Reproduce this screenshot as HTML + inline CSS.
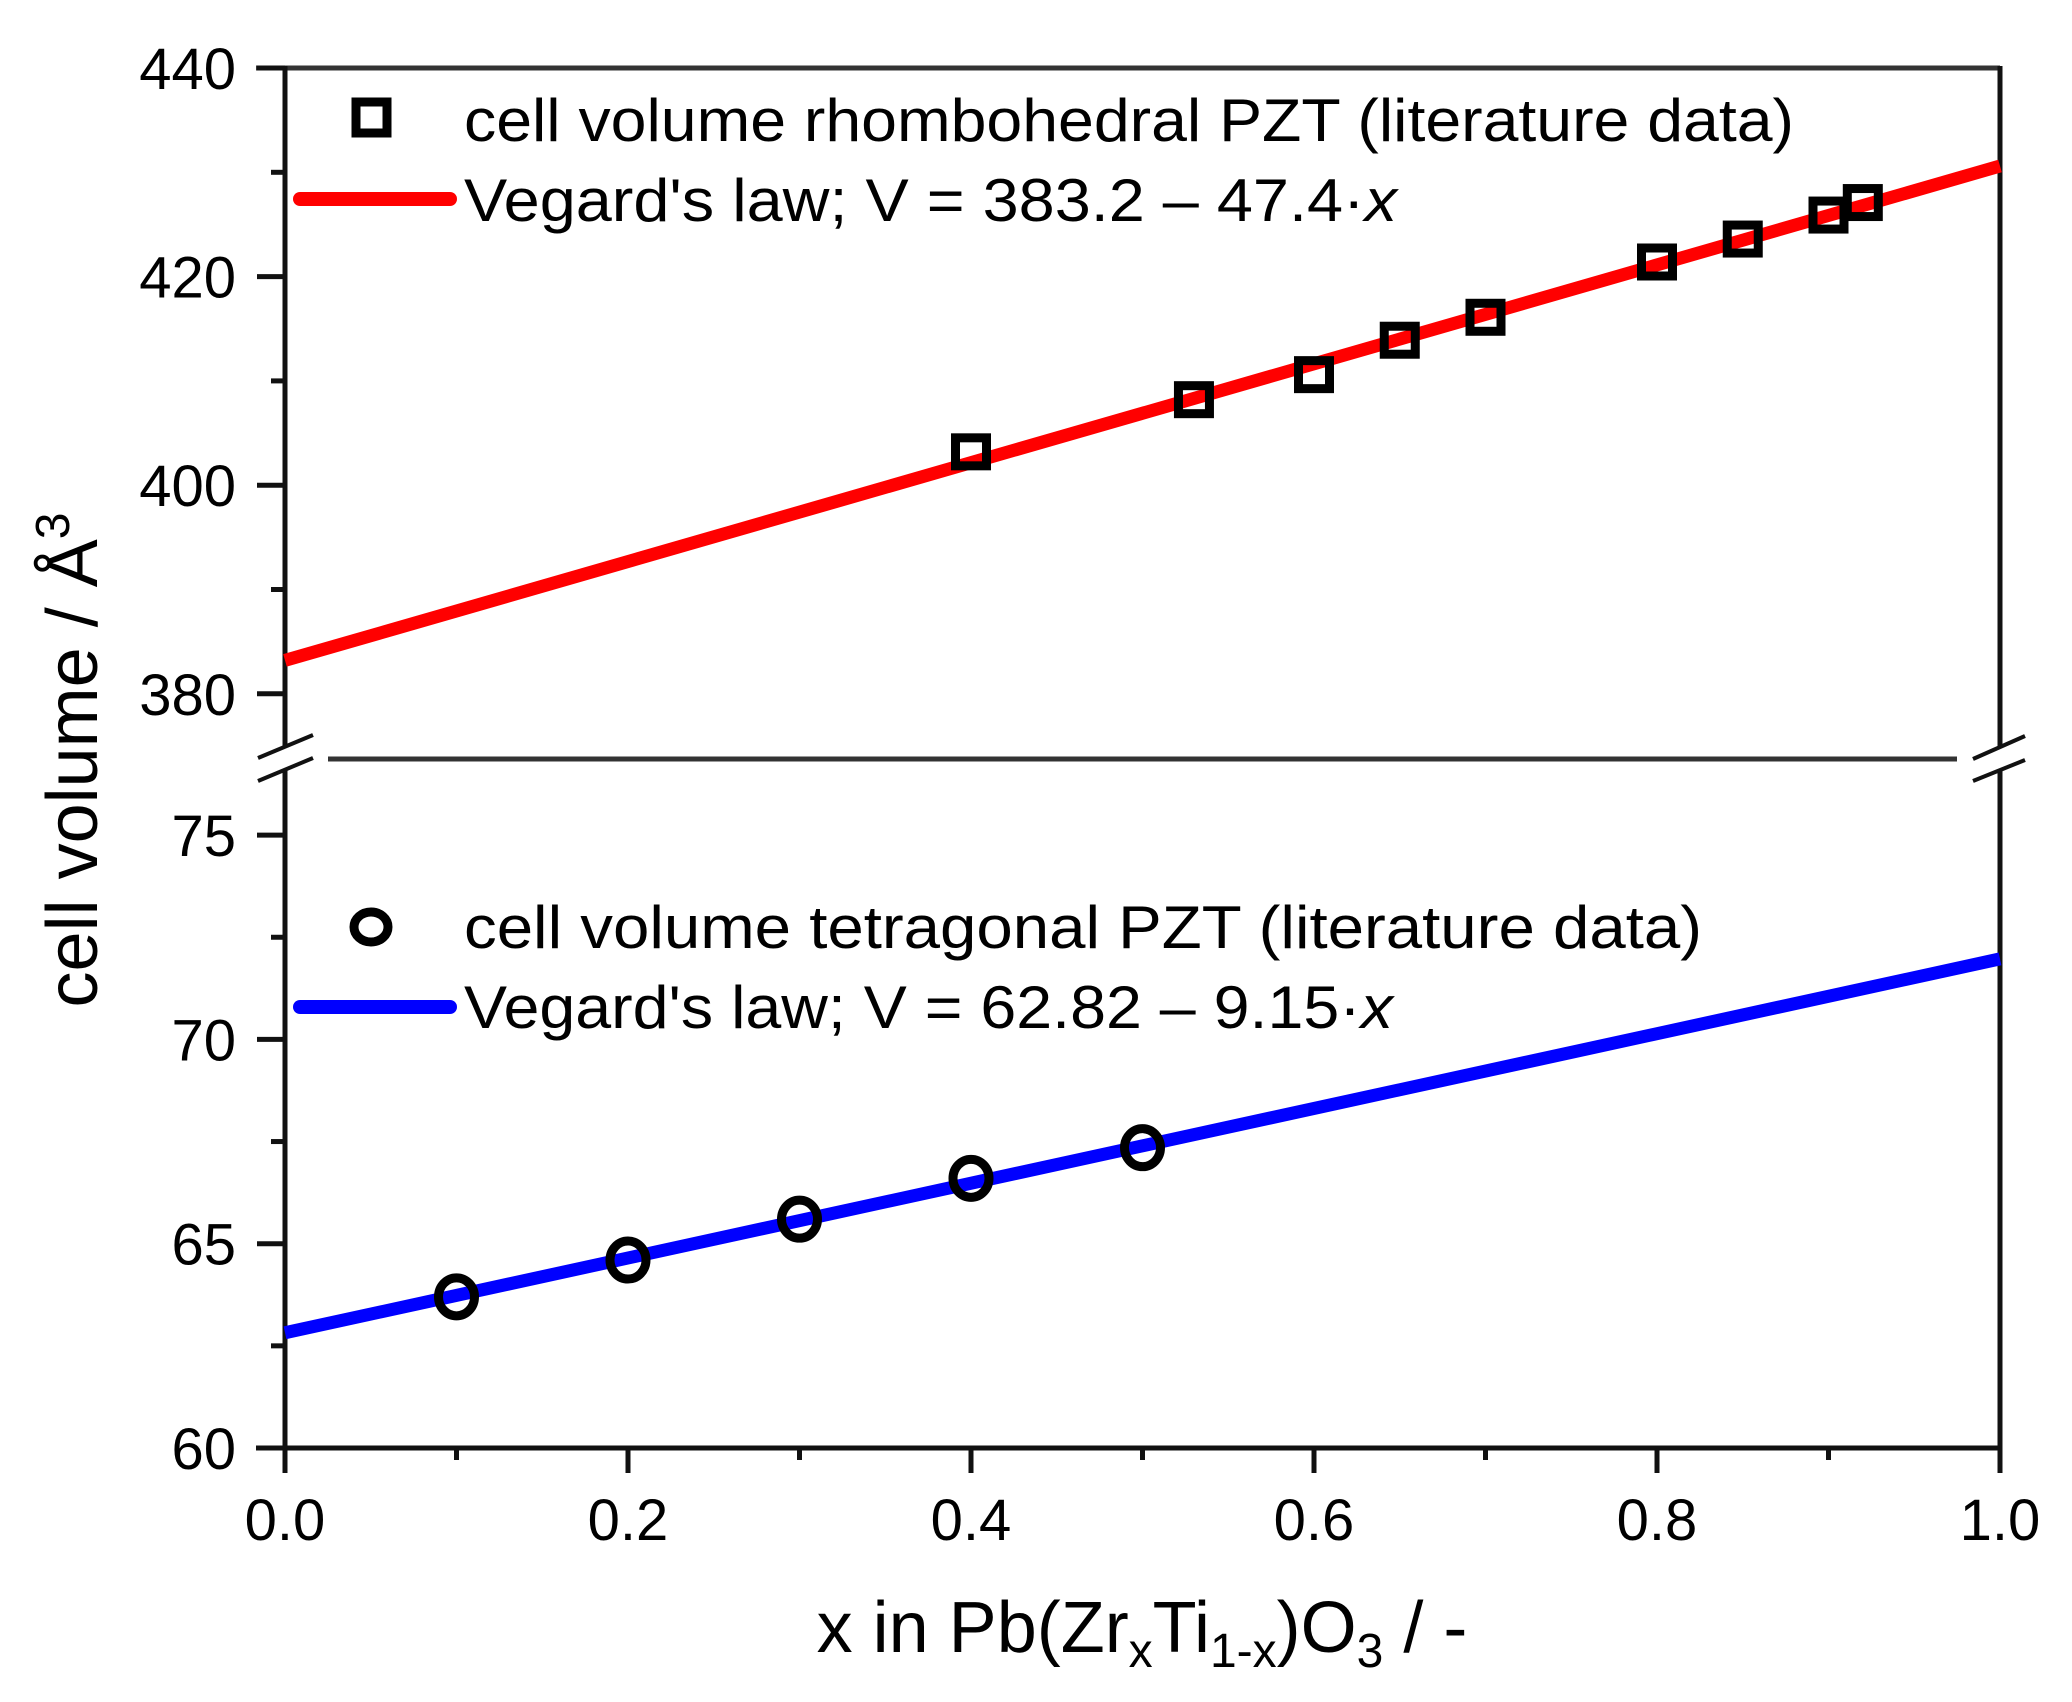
<!DOCTYPE html>
<html><head><meta charset="utf-8"><style>
html,body{margin:0;padding:0;background:#fff;}
svg{display:block;font-family:"Liberation Sans",Arial,sans-serif;}
</style></head><body>
<svg id="chart" width="2072" height="1702" viewBox="0 0 2072 1702" xmlns="http://www.w3.org/2000/svg">
<g id="frame"></g>
<g id="ticks"></g>
<g id="series"></g>
<g id="legend">
  <rect x="356" y="102" width="31" height="31" fill="none" stroke="#000" stroke-width="9"/>
  <text x="464" y="141" font-size="60" textLength="1330" lengthAdjust="spacingAndGlyphs">cell volume rhombohedral PZT (literature data)</text>
  <line x1="300" y1="199" x2="450" y2="199" stroke="#ff0000" stroke-width="14" stroke-linecap="round"/>
  <text x="464" y="221" font-size="60" textLength="933" lengthAdjust="spacingAndGlyphs">Vegard's law; V = 383.2 – 47.4·<tspan font-style="italic">x</tspan></text>
  <ellipse cx="371" cy="927" rx="17" ry="15" fill="none" stroke="#000" stroke-width="9"/>
  <text x="464" y="948" font-size="60" textLength="1238" lengthAdjust="spacingAndGlyphs">cell volume tetragonal PZT (literature data)</text>
  <line x1="300" y1="1007" x2="450" y2="1007" stroke="#0000ff" stroke-width="14" stroke-linecap="round"/>
  <text x="464" y="1028" font-size="60" textLength="929" lengthAdjust="spacingAndGlyphs">Vegard's law; V = 62.82 – 9.15·<tspan font-style="italic">x</tspan></text>
</g>
<text x="1142" y="1652" font-size="72" text-anchor="middle">x in Pb(Zr<tspan font-size="48" dy="15">x</tspan><tspan dy="-15">Ti</tspan><tspan font-size="48" dy="15">1-x</tspan><tspan dy="-15">)O</tspan><tspan font-size="48" dy="15">3</tspan><tspan dy="-15"> / -</tspan></text>
<text transform="translate(97,760) rotate(-90)" font-size="72" text-anchor="middle">cell volume / Å<tspan font-size="48" dy="-28">3</tspan></text>
</svg>
<script>
// data
const upperX = [0.4, 0.53, 0.6, 0.65, 0.7, 0.8, 0.85, 0.9, 0.92];
const upperV = [403.2, 408.2, 410.6, 413.9, 416.1, 421.4, 423.6, 425.9, 427.1];
const lowerX = [0.1, 0.2, 0.3, 0.4, 0.5];
const lowerV = [63.7, 64.6, 65.6, 66.6, 67.35];
const redFit = [383.2, 47.4];
const blueFit = [62.82, 9.15];
const xTicks = [0, 0.2, 0.4, 0.6, 0.8, 1.0];
const xTickLabels = ["0.0", "0.2", "0.4", "0.6", "0.8", "1.0"];
const upperTicks = [380, 400, 420, 440];
const lowerTicks = [60, 65, 70, 75];

const NS = "http://www.w3.org/2000/svg";
const L = 285, R = 2000, TOP = 68, BOT = 1448, BRK = 759;
const sx = v => L + v * (R - L);
const syU = v => TOP + (440 - v) * 10.43;
const syL = v => BOT - (v - 60) * 40.86;
function mk(tag, attrs, parent) {
  const e = document.createElementNS(NS, tag);
  for (const k in attrs) e.setAttribute(k, attrs[k]);
  parent.appendChild(e);
  return e;
}
const frame = document.getElementById('frame');
const ticks = document.getElementById('ticks');
const series = document.getElementById('series');
const AX = {stroke: "#111", "stroke-width": 5};
let e;
e = mk('line', Object.assign({x1: 256, y1: TOP, x2: R, y2: TOP}, {stroke: "#333", "stroke-width": 5}), frame);
 
e = mk('line', Object.assign({x1: 256, y1: BOT, x2: R + 2, y2: BOT}, AX), frame);
 
e = mk('line', Object.assign({x1: L, y1: TOP - 2, x2: L, y2: 746}, AX), frame);
 
e = mk('line', Object.assign({x1: L, y1: 770, x2: L, y2: 1473}, AX), frame);
 
e = mk('line', Object.assign({x1: R, y1: TOP - 2, x2: R, y2: 746}, AX), frame);
 
e = mk('line', Object.assign({x1: R, y1: 770, x2: R, y2: 1473}, AX), frame);
 
e = mk('line', {x1: 328, y1: BRK, x2: 1957, y2: BRK, stroke: "#333", "stroke-width": 5}, frame);
 
[[258,758,313,735],[258,781,313,758],[1973,759,2025,736],[1973,781,2025,760]].forEach(c => {
  const b = mk('line', {x1: c[0], y1: c[1], x2: c[2], y2: c[3], stroke: "#111", "stroke-width": 4}, frame);
  
  
});
for (let i = 0; i <= 10; i++) {
  const v = i / 10, major = i % 2 === 0;
  const t = mk('line', {x1: sx(v), y1: BOT, x2: sx(v), y2: BOT + (major ? 25 : 12), stroke: "#111", "stroke-width": 5}, ticks);
  
  
}
xTicks.forEach((v, i) => {
  const t = mk('text', {x: sx(v), y: 1540, "font-size": 58, "text-anchor": "middle"}, ticks);
  t.textContent = xTickLabels[i];
  
  
});
for (let v = 380; v <= 440; v += 10) {
  const major = v % 20 === 0;
  const t = mk('line', {x1: L - (major ? 28 : 14), y1: syU(v), x2: L, y2: syU(v), stroke: "#111", "stroke-width": 5}, ticks);
  
  
}
upperTicks.forEach(v => {
  const t = mk('text', {x: 236, y: syU(v) + 21, "font-size": 58, "text-anchor": "end"}, ticks);
  t.textContent = String(v);
  
  
});
for (let v = 60; v <= 75; v += 2.5) {
  const major = v % 5 === 0;
  const t = mk('line', {x1: L - (major ? 28 : 14), y1: syL(v), x2: L, y2: syL(v), stroke: "#111", "stroke-width": 5}, ticks);
  
  
}
lowerTicks.forEach(v => {
  const t = mk('text', {x: 236, y: syL(v) + 21, "font-size": 58, "text-anchor": "end"}, ticks);
  t.textContent = String(v);
  
  
});
e = mk('line', {x1: sx(0), y1: syU(redFit[0]), x2: sx(1), y2: syU(redFit[0] + redFit[1]), stroke: "#ff0000", "stroke-width": 13}, series);
 
e = mk('line', {x1: sx(0), y1: syL(blueFit[0]), x2: sx(1), y2: syL(blueFit[0] + blueFit[1]), stroke: "#0000ff", "stroke-width": 13}, series);
 
upperX.forEach((x, i) => {
  const m = mk('rect', {x: sx(x) - 15.5, y: syU(upperV[i]) - 14, width: 31, height: 28, fill: "none", stroke: "#000", "stroke-width": 9}, series);
  
  
});
lowerX.forEach((x, i) => {
  const m = mk('ellipse', {cx: sx(x), cy: syL(lowerV[i]), rx: 18, ry: 19, fill: "none", stroke: "#000", "stroke-width": 9}, series);
  
  
});
</script>
</body></html>
